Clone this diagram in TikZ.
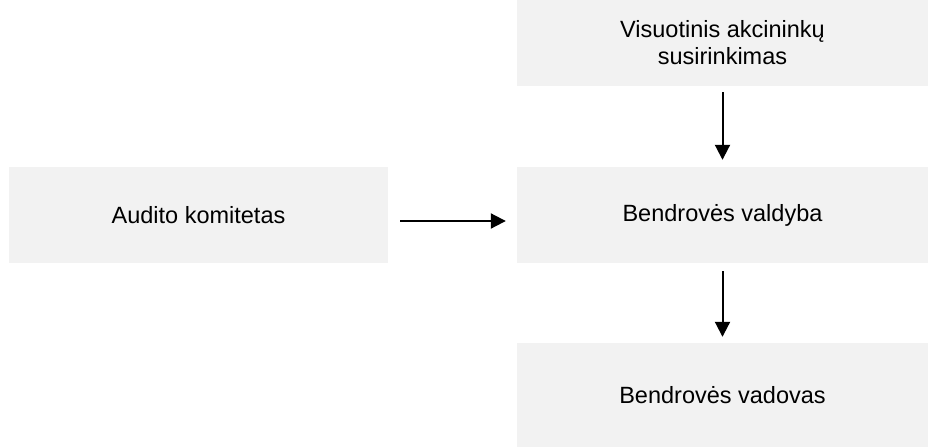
\documentclass[tikz,border=0pt]{standalone}
\usepackage{fontspec}
\setmainfont{Liberation Sans}
\usetikzlibrary{arrows.meta}
\definecolor{boxgray}{HTML}{F2F2F2}
\tikzset{
  orgbox/.style={fill=boxgray, draw=none, inner sep=0pt, align=center,
    font=\fontsize{23.5}{27}\selectfont},
  conn/.style={line width=2pt, -{Triangle[length=15pt,width=15pt]}}
}
\begin{document}
\begin{tikzpicture}[x=1pt,y=-1pt]
\useasboundingbox (0,0) rectangle (928,447);
\node[orgbox, minimum width=411pt, minimum height=86pt] (vas) at (722.5,43) {Visuotinis akcininkų\\susirinkimas};
\node[orgbox, minimum width=379pt, minimum height=96pt] (audit) at (198.5,215) {Audito komitetas};
\node[orgbox, minimum width=411pt, minimum height=96pt] (valdyba) at (722.5,215) {Bendrovės valdyba};
\node[orgbox, minimum width=411pt, minimum height=104pt] (vadovas) at (722.5,395) {Bendrovės vadovas};
\draw[conn, shorten <=6pt, shorten >=7pt] (vas.south) -- (valdyba.north);
\draw[conn, shorten <=8pt, shorten >=6pt] (valdyba.south) -- (vadovas.north);
\draw[conn, shorten <=12pt, shorten >=11pt] ([yshift=-6pt]audit.east) -- ([yshift=-6pt]valdyba.west);
\end{tikzpicture}
\end{document}
